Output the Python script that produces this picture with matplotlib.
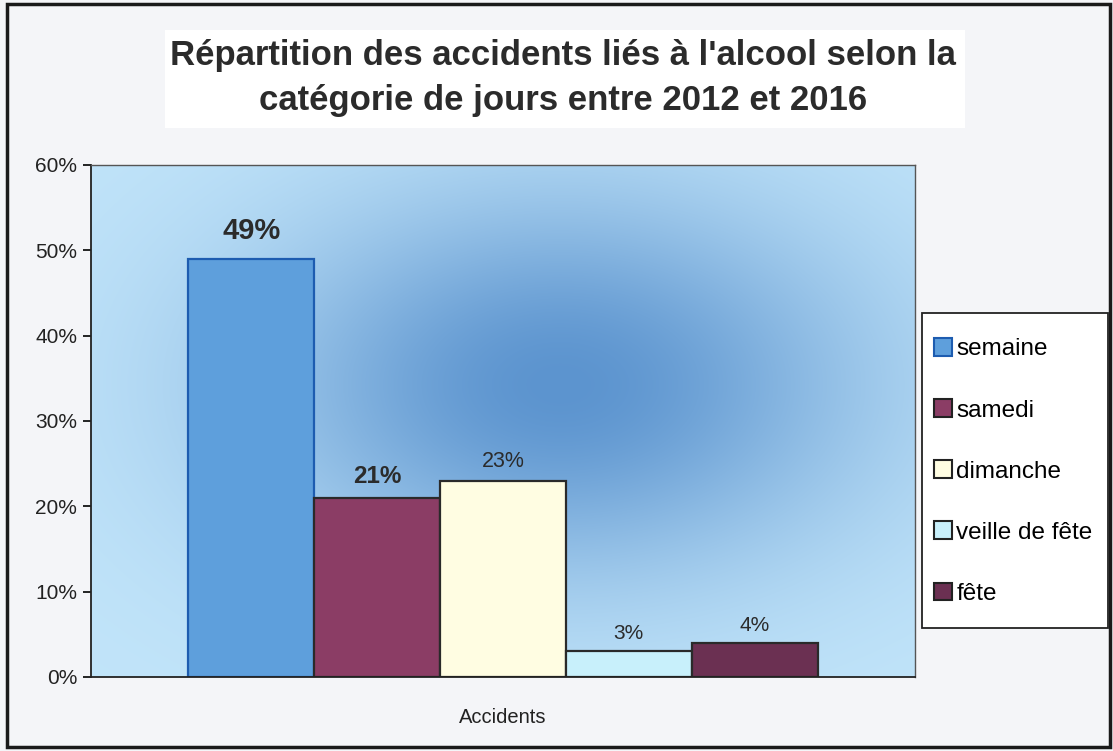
import numpy as np
import matplotlib
matplotlib.use("Agg")
import matplotlib.pyplot as plt
from matplotlib.patches import Rectangle
from matplotlib.colors import to_rgb

# ---- data ----
categories = ["semaine", "samedi", "dimanche", "veille de fête", "fête"]
values = [49, 21, 23, 3, 4]
value_labels = ["49%", "21%", "23%", "3%", "4%"]
x_category = ["Accidents"]
y_ticks = [0, 10, 20, 30, 40, 50, 60]
y_ticklabels = ["0%", "10%", "20%", "30%", "40%", "50%", "60%"]
title = "Répartition des accidents liés à l'alcool selon la\ncatégorie de jours entre 2012 et 2016"

# ---- styles ----
fills = ["#5e9fdc", "#8b3d65", "#fffde2", "#c8f0fb", "#6b3052"]
edges = ["#1d5cb0", "#2a2a2a", "#2a2a2a", "#2a2a2a", "#2a2a2a"]
label_sizes = [21, 17.5, 15.5, 15, 15]
label_weights = ["bold", "bold", "normal", "normal", "normal"]
label_offsets = [10, 7, 6, 6, 6]

plt.rcParams['font.family'] = ['Liberation Sans', 'DejaVu Sans']

fig = plt.figure(figsize=(11.13, 7.51), dpi=100, facecolor="#f4f5f8")

# figure frame
fig.patches.append(Rectangle((7/1113, 4/751), 1103/1113, 743/751, transform=fig.transFigure,
                             fill=False, edgecolor="#1a1a1a", linewidth=2.5, zorder=0))
# title box
fig.patches.append(Rectangle((165/1113, 1 - 128/751), 800/1113, 98/751, transform=fig.transFigure,
                             facecolor="white", edgecolor="none", zorder=0))
fig.text(0.5055, 1 - 78/751, title, ha="center", va="center", fontsize=25, fontweight="bold",
         color="#2b2b2b", linespacing=1.45)

ax = fig.add_axes([91/1113, 74/751, 824/1113, 512/751])

# background gradient of plot area
ny, nx = 300, 500
yy, xx = np.mgrid[0:1:ny*1j, 0:1:nx*1j]
d = ((xx - 0.57) / 0.40) ** 2 + ((yy - 0.57) / 0.40) ** 2
t = np.exp(-d * 1.15)
c_edge = np.array(to_rgb("#c2e5fa"))
c_center = np.array(to_rgb("#5c94cf"))
img = c_edge[None, None, :] * (1 - t[..., None]) + c_center[None, None, :] * t[..., None]
ax.imshow(img, extent=[0, 1, 0, 1], transform=ax.transAxes, origin="lower",
          aspect="auto", zorder=0, interpolation="bilinear")

n = len(categories)
w = 0.1527
xs = (np.arange(n) - (n - 1) / 2) * w
bars = ax.bar(xs, values, width=w, color=fills, edgecolor=edges, linewidth=1.6, zorder=2)

for b, lab, s, fw, off in zip(bars, value_labels, label_sizes, label_weights, label_offsets):
    ax.annotate(lab, (b.get_x() + b.get_width() / 2, b.get_height()), xytext=(0, off),
                textcoords="offset points", ha="center", va="bottom", fontsize=s,
                fontweight=fw, color="#2b2b2b", zorder=3)

ax.set_xlim(-0.5, 0.5)
ax.set_ylim(0, 60)
ax.set_yticks(y_ticks)
ax.set_yticklabels(y_ticklabels, fontsize=15, color="#222222")
ax.set_xticks([0])
ax.set_xticklabels(x_category, fontsize=14.5, color="#222222")
ax.tick_params(axis="x", length=0, pad=22)
ax.tick_params(axis="y", length=6, width=1.2, direction="out", pad=4)
for side in ["left", "bottom"]:
    ax.spines[side].set_color("#222222")
    ax.spines[side].set_linewidth(1.3)
for side in ["top", "right"]:
    ax.spines[side].set_color("#555555")
    ax.spines[side].set_linewidth(1.0)

# legend frame
fig.patches.append(Rectangle((922/1113, 1 - 628/751), 186/1113, 315/751, transform=fig.transFigure,
                             facecolor="white", edgecolor="#222222", linewidth=1.3, zorder=1))
handles = [Rectangle((0, 0), 1, 1, facecolor=f, edgecolor=("#1d5cb0" if i == 0 else "#222222"),
                     linewidth=1.5) for i, f in enumerate(fills)]
leg = fig.legend(handles, categories, loc="center left",
                 bbox_to_anchor=(934/1113, 1 - 471.5/751), fontsize=17.5,
                 frameon=False, handlelength=0.72, handleheight=0.72, handletextpad=0.2,
                 labelspacing=1.6, borderpad=0, borderaxespad=0)
leg.set_zorder(2)

fig.savefig("out.png", dpi=100, facecolor=fig.get_facecolor())
